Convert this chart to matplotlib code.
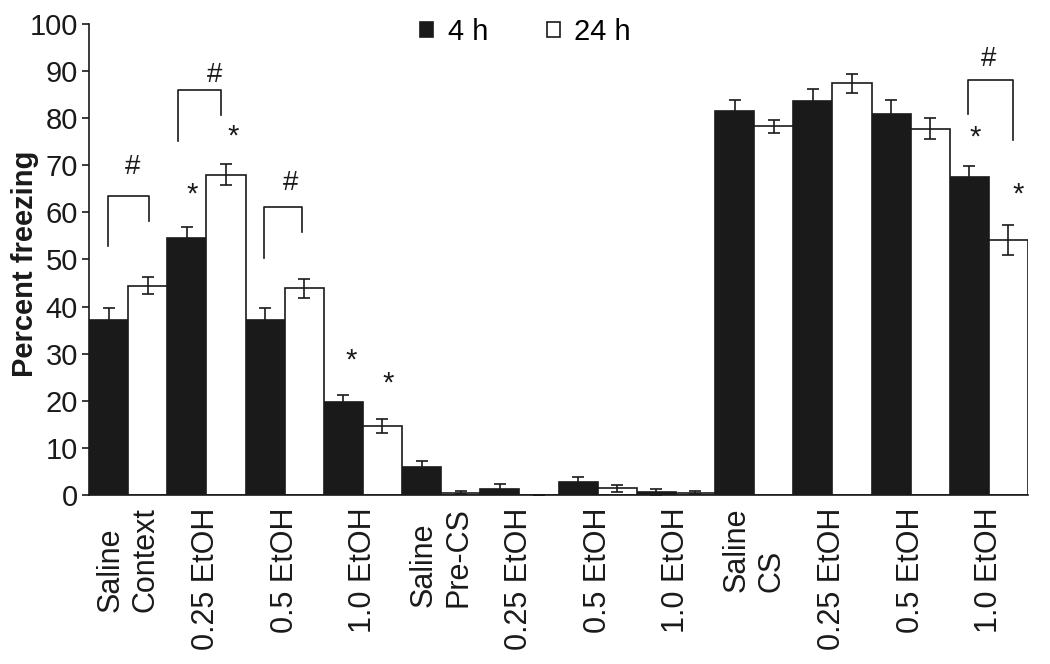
import numpy as np
import matplotlib
matplotlib.use('Agg')
import matplotlib.pyplot as plt

plt.rcParams['font.family'] = ['Liberation Sans', 'DejaVu Sans']

# groups and values (percent freezing)
groups = ['Saline\nContext', '0.25 EtOH', '0.5 EtOH', '1.0 EtOH',
          'Saline\nPre-CS', '0.25 EtOH', '0.5 EtOH', '1.0 EtOH',
          'Saline\nCS', '0.25 EtOH', '0.5 EtOH', '1.0 EtOH']
h4 = [37.2, 54.5, 37.2, 19.8, 6.0, 1.3, 2.8, 0.7, 81.5, 83.7, 80.9, 67.6]
h4_err = [2.4, 2.4, 2.6, 1.5, 1.2, 1.0, 1.0, 0.6, 2.4, 2.4, 3.0, 2.3]
h24 = [44.4, 68.0, 43.9, 14.7, 0.5, 0.0, 1.4, 0.5, 78.3, 87.4, 77.8, 54.1]
h24_err = [1.8, 2.2, 2.0, 1.5, 0.3, 0.0, 0.8, 0.3, 1.4, 2.0, 2.2, 3.2]

# significance brackets: (x left, x right, y top, y left leg, y right leg, # x, # y)
brackets = [(-0.26, 0.27, 63.5, 52.9, 58.2, 0.05, 69.7),
            (0.64, 1.19, 86.0, 75.2, 80.7, 1.10, 89.2),
            (1.74, 2.22, 61.1, 50.4, 55.8, 2.08, 66.3),
            (10.73, 11.31, 88.0, 80.9, 75.4, 11.0, 92.6)]
# asterisks (x, y)
stars = [(0.82, 65.8), (1.34, 78.0), (2.85, 30.6), (3.32, 25.7),
         (10.82, 77.8), (11.37, 65.7)]

fig = plt.figure(figsize=(10.5, 6.64), dpi=100)
ax = fig.add_axes([0.0848, 0.2545, 0.8943, 0.7094])

x = np.arange(len(groups))
w = 0.5
ink = '#1a1a1a'
ax.bar(x - w / 2, h4, w, color=ink, edgecolor=ink, linewidth=1.2, label='4 h')
ax.bar(x + w / 2, h24, w, color='white', edgecolor=ink, linewidth=1.2, label='24 h')
ax.errorbar(x - w / 2, h4, yerr=h4_err, fmt='none', ecolor=ink, elinewidth=1.2,
            capsize=4.3, capthick=1.2)
ax.errorbar(x + w / 2, h24, yerr=h24_err, fmt='none', ecolor=ink, elinewidth=1.2,
            capsize=4.3, capthick=1.2)

for xl, xr, yt, yl, yr, hx, hy in brackets:
    ax.plot([xl, xl, xr, xr], [yl, yt, yt, yr], color=ink, lw=1.2)
    ax.text(hx, hy, '#', ha='center', va='center', fontsize=20, color=ink)
for sx, sy in stars:
    ax.text(sx, sy - 2.0, '*', ha='center', va='center', fontsize=21, color=ink)

ax.set_xlim(-0.5, len(groups) - 0.5)
ax.set_ylim(0, 100)
ax.set_yticks(range(0, 101, 10))
ax.set_xticks(x)
ax.set_xticklabels(groups, rotation=90, multialignment='left', fontsize=22, color=ink)
ax.tick_params(axis='x', length=0, pad=9)
ax.tick_params(axis='y', labelsize=21, length=5, width=1.2, pad=3, colors=ink)

ax.spines['top'].set_visible(False)
ax.spines['right'].set_visible(False)
for s in ['left', 'bottom']:
    ax.spines[s].set_linewidth(1.2)
    ax.spines[s].set_color(ink)

ax.set_ylabel('Percent freezing', fontsize=21, fontweight='bold', color=ink)
ax.yaxis.set_label_coords(-0.053, 0.49)

ax.legend(loc='center', bbox_to_anchor=(0.465, 0.983), ncol=2, frameon=False,
          fontsize=21, handlelength=0.45, handleheight=0.45, handletextpad=0.5,
          columnspacing=2.0)

fig.savefig('out.png', dpi=100)
